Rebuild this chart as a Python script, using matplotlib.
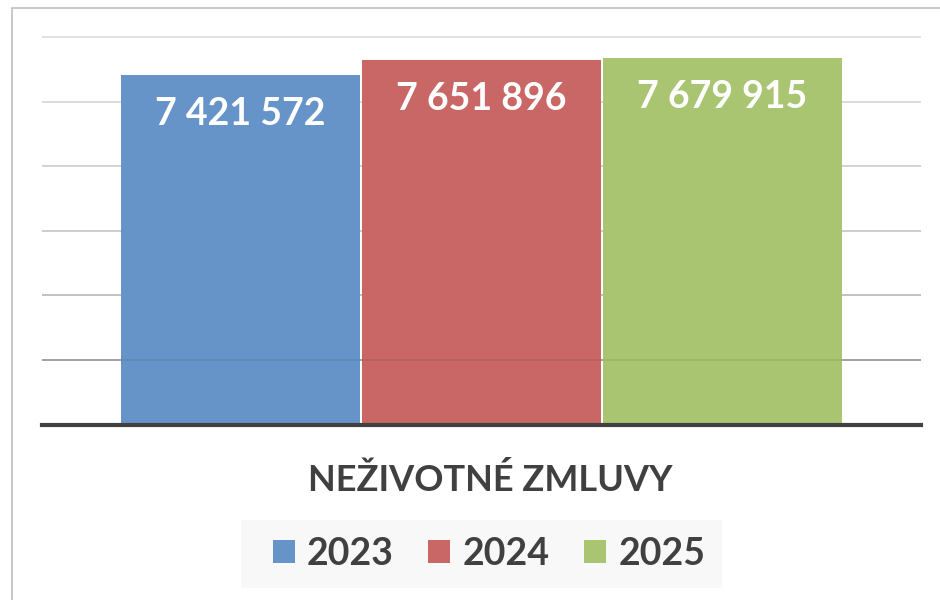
import matplotlib
matplotlib.use("Agg")
import matplotlib.pyplot as plt
from matplotlib.patches import Patch, Rectangle

categories = ["2023", "2024", "2025"]
values = [7421572, 7651896, 7679915]
colors = ["#6794C8", "#C96766", "#AAC572"]
title = "NEŽIVOTNÉ ZMLUVY"
grid_values = [3e6, 4e6, 5e6, 6e6, 7e6, 8e6]
grid_colors = ["#A8A8A8", "#BDBDBD", "#C8C8C8", "#CFCFCF", "#D9D9D9", "#DEDEDE"]

plt.rcParams['font.family'] = ['Lato', 'DejaVu Sans']

W, H = 940, 600
fig = plt.figure(figsize=(9.4, 6.0), dpi=100)
fig.patch.set_facecolor("white")

# outer chart frame
fig.patches.append(Rectangle((12 / W, -0.1), 1.2, 1 - 8 / H + 0.1, transform=fig.transFigure,
                             fill=False, edgecolor="#BFBFBF", linewidth=1.2))
# legend background
fig.patches.append(Rectangle((241 / W, 1 - 588 / H), (722 - 241) / W, 68 / H,
                             transform=fig.transFigure, facecolor="#F8F8F8",
                             edgecolor="none"))

left, right = 42 / W, 921 / W
px_per_unit = 64.5 / 1e6
ymax = 8e6 + 10 / px_per_unit
bottom = 1 - 424.5 / H
top = 1 - (37.5 - 10) / H
ax = fig.add_axes([left, bottom, right - left, top - bottom])
ax.set_xlim(-0.825, 2.825)
ax.set_ylim(2e6, ymax)
for s in ax.spines.values():
    s.set_visible(False)
ax.set_xticks([])
ax.set_yticks([])
ax.patch.set_alpha(0)

for g, c in zip(grid_values, grid_colors):
    ax.axhline(g, color=c, linewidth=1.3, zorder=1)

xs = list(range(len(categories)))
bars = ax.bar(xs, [v - 2e6 for v in values], bottom=2e6, width=0.995, color=colors,
              edgecolor="none", zorder=2)
for b in bars:
    b.set_clip_on(False)

# faint gridline showing through the bars
for g in grid_values[:1]:
    ax.axhline(g, color="black", alpha=0.08, linewidth=1.3, zorder=2.5)

ax.axhline(2e6, color="#404040", linewidth=3, zorder=3, clip_on=False)

for x, v in zip(xs, values):
    label = f"{v:,}".replace(",", " ")
    ax.annotate(label, (x, v), xytext=(0, -39), textcoords="offset pixels",
                ha="center", va="center", color="white", fontsize=27, fontweight="bold", zorder=4)

fig.text(490 / W, 1 - 480 / H, title, ha="center", va="center", fontsize=26,
         fontweight="bold", color="#404040")

handles = [Patch(facecolor=c, edgecolor="none") for c in colors]
leg = fig.legend(handles, categories, loc="center", bbox_to_anchor=(489 / W, 1 - 554 / H),
                 ncol=3, frameon=False, prop={'weight': 'bold', 'size': 27},
                 handlelength=0.58, handleheight=0.58, handletextpad=0.33, columnspacing=0.92,
                 borderpad=0.0, borderaxespad=0)
for t in leg.get_texts():
    t.set_color("#404040")

fig.savefig("out.png", dpi=100)
